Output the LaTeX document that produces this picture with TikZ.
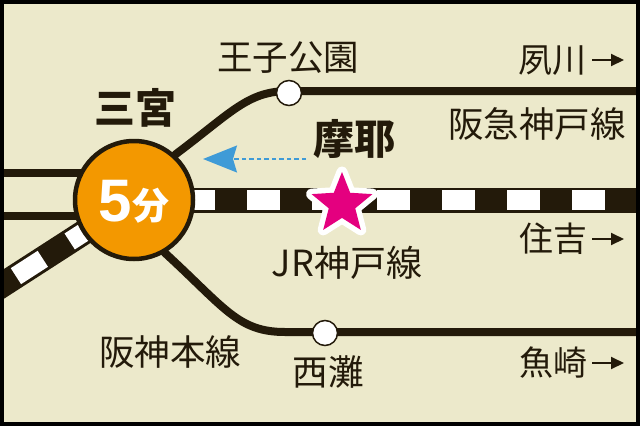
\documentclass[tikz,border=0pt]{standalone}
\usepackage{fontspec}
\setmainfont{Noto Sans CJK JP}
\newfontfamily\numfont{Liberation Sans}
\usepackage{xcolor}
\usetikzlibrary{arrows.meta, shapes.geometric, backgrounds}
\definecolor{paper}{HTML}{ECE9CB}
\definecolor{track}{HTML}{231A0A}
\definecolor{hubfill}{HTML}{F39800}
\definecolor{walk}{HTML}{3F9BD7}
\definecolor{magenta}{HTML}{E4007F}
\newcommand{\sz}[1]{\fontsize{#1}{#1}\selectfont}

\tikzset{
    label35/.style={text=track, inner sep=0pt, font=\sz{35.5}},
    labelbold/.style={text=track, inner sep=0pt, font=\sz{41}\bfseries},
    station/.style={circle, draw=track, line width=1.5pt, fill=white, inner sep=0pt, minimum size=25pt},
    line/.style={draw=track, line width=8pt},
    band/.style={draw=track, line width=25pt},
    ties/.style={draw=white, line width=20pt},
    toward/.style={draw=track, line width=2pt, -{Stealth[length=13pt, width=12pt, inset=0pt]}}
}

\begin{document}
\begin{tikzpicture}[x=1pt, y=-1pt]
    \useasboundingbox (0,0) rectangle (640,426);
    \clip (0,0) rectangle (640,426);

    \node[circle, draw=track, line width=4.5pt, fill=hubfill, inner sep=0pt, minimum size=118pt] (sannomiya) at (134,200) {};
    \node[text=white, inner sep=0pt, font=\numfont\bfseries\sz{60}] (five) at (115,201) {5};
    \node[text=white, inner sep=0pt, font=\sz{37}\bfseries] (fun) at (151,206) {分};

    \node[station] (ouji) at (289,93) {};
    \node[station] (nada) at (325,333) {};

    \coordinate (hankyueast) at (640,91);
    \coordinate (hanshineast) at (640,332);
    \coordinate (jreast) at (640,200);
    \coordinate (jrwest) at (-4,289);
    \coordinate (west1) at (0,173);
    \coordinate (west2) at (0,216);

    \begin{scope}[on background layer]
        \fill[paper] (0,0) rectangle (640,426);
        \draw[line] (sannomiya.center) -- (176,154) .. controls (232,112) and (248,91) .. (ouji.center |- hankyueast) -- (hankyueast);
        \draw[line] (sannomiya.center) -- (165,253) .. controls (225,308) and (238,332) .. (285,332) -- (nada.center |- hanshineast) -- (hanshineast);
        \draw[line] (west1) -- (134,173);
        \draw[line] (west2) -- (134,216);
        \draw[band] (sannomiya.center) -- (jreast);
        \draw[ties, dash pattern=on 33pt off 32pt, dash phase=17pt] (sannomiya.center) -- (jreast);
        \draw[band] (sannomiya.center) -- (jrwest);
        \draw[ties, line width=19pt, dash pattern=on 32pt off 32pt, dash phase=40.3pt] (jrwest) -- (sannomiya.center);
    \end{scope}

    \node[star, star points=5, star point ratio=2.3, fill=magenta, inner sep=0pt, minimum size=64pt,
        preaction={draw=white, line width=11pt, line join=round}] (maya) at (342,204) {};

    \coordinate (walkfrom) at (306,159);
    \coordinate (walkto) at (203,159);
    \draw[walk, line width=1.5pt, dash pattern=on 4.5pt off 3pt, -{Stealth[length=34pt, width=27pt, inset=4pt]}] (walkfrom) -- (walkto);

    \node[labelbold] (sannomiyaname) at (135,108) {三宮};
    \node[labelbold] (mayaname) at (354,139) {摩耶};
    \node[label35] (oujiname) at (288,58) {王子公園};
    \node[label35] (nadaname) at (328,372) {西灘};
    \node[label35] (hankyu) at (537,124) {阪急神戸線};
    \node[label35, font=\sz{36}] (jr) at (347,263) {JR神戸線};
    \node[label35] (hanshin) at (170,352) {阪神本線};

    \node[label35, font=\sz{34}] (shukugawa) at (552,61) {夙川};
    \node[label35, font=\sz{34}] (sumiyoshi) at (553,239) {住吉};
    \node[label35, font=\sz{34}] (uozaki) at (553,363) {魚崎};
    \coordinate (toshukugawa) at (624,60);
    \coordinate (tosumiyoshi) at (624,239);
    \coordinate (touozaki) at (624,363);
    \draw[toward] (592,60) -- (toshukugawa);
    \draw[toward] (592,239) -- (tosumiyoshi);
    \draw[toward] (592,363) -- (touozaki);

    \draw[black, line width=4pt] (2,2) rectangle (638,424);
\end{tikzpicture}
\end{document}
